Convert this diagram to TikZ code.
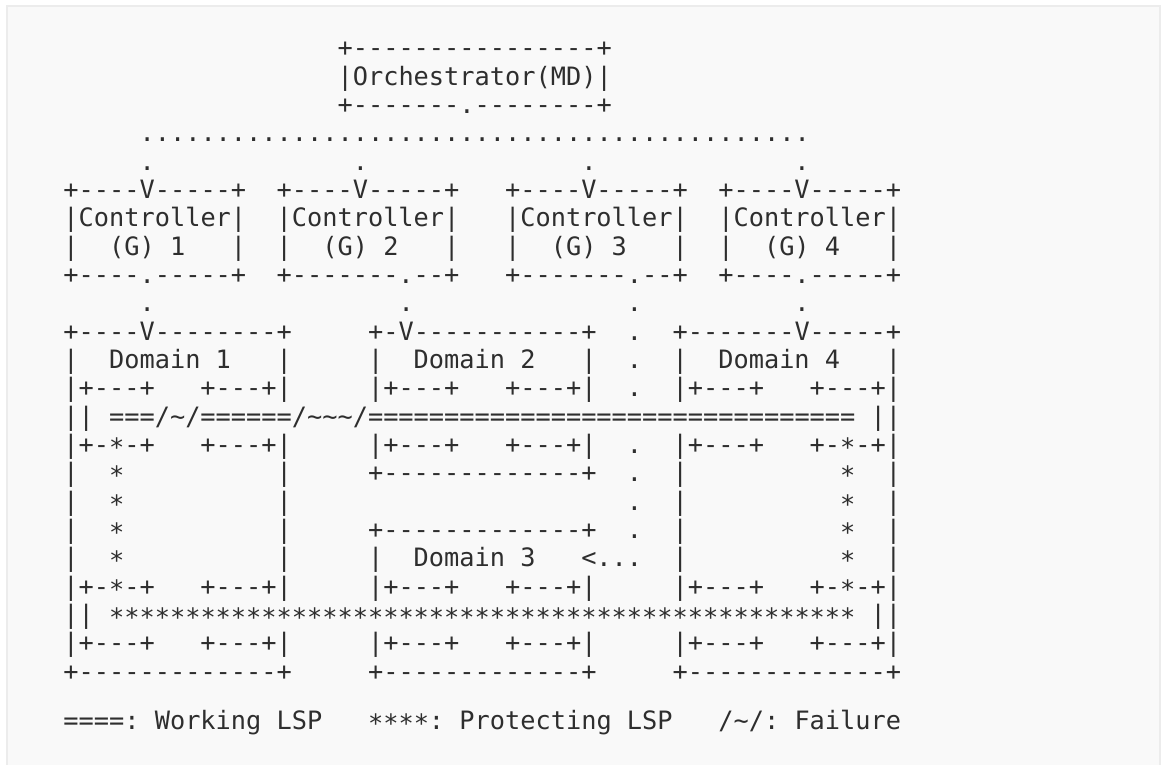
\documentclass[tikz,border=0pt]{standalone}
\usepackage{fontspec}
\newfontfamily\asciifont{DejaVu Sans Mono}[Ligatures=TeXOff]
\definecolor{ink}{HTML}{2E2E2E}
\definecolor{panel}{HTML}{F9F9F9}
\definecolor{frame}{HTML}{ECECEC}
\newlength\colw
\setlength\colw{15.23pt}
\newcommand\colgap[1]{\hspace*{#1\colw}}
\newcommand\reps[2]{\foreach \k in {1,...,#1}{#2}}
\newcommand\tld{\textasciitilde}
\newcommand\strk{\raisebox{-3pt}{*}}
\tikzset{
  row/.style={anchor=base west, inner sep=0pt, text=ink,
    font=\asciifont\fontsize{25.3}{28.34}\selectfont}
}
\begin{document}
\begin{tikzpicture}[x=1pt,y=-1pt]
  \useasboundingbox (0,0) rectangle (1161,765);
  \fill[white] (0,0) rectangle (1161,765);
  \filldraw[fill=panel, draw=frame, line width=2pt] (7,6) rectangle (1160,780);
  % orchestrator
  \node[row] (r1) at (63.24,56.70) {\colgap{18}+\reps{16}{-}+};
  \node[row] (r2) at (63.24,85.04) {\colgap{18}|Orchestrator(MD)|};
  \node[row] (r3) at (63.24,113.38) {\colgap{18}+-------.--------+};
  \node[row] (r4) at (63.24,141.72) {\colgap{5}\reps{44}{.}};
  \node[row] (r5) at (63.24,170.06) {\colgap{5}.\colgap{13}.\colgap{14}.\colgap{13}.};
  % controllers
  \node[row] (r6) at (63.24,198.40) {+----V-----+\colgap{2}+----V-----+\colgap{3}+----V-----+\colgap{2}+----V-----+};
  \node[row] (r7) at (63.24,226.74) {|Controller|\colgap{2}|Controller|\colgap{3}|Controller|\colgap{2}|Controller|};
  \node[row] (r8) at (63.24,255.08) {|\colgap{2}(G)\colgap{1}1\colgap{3}|\colgap{2}|\colgap{2}(G)\colgap{1}2\colgap{3}|\colgap{3}|\colgap{2}(G)\colgap{1}3\colgap{3}|\colgap{2}|\colgap{2}(G)\colgap{1}4\colgap{3}|};
  \node[row] (r9) at (63.24,283.42) {+----.-----+\colgap{2}+-------.--+\colgap{3}+-------.--+\colgap{2}+----.-----+};
  \node[row] (r10) at (63.24,311.76) {\colgap{5}.\colgap{16}.\colgap{14}.\colgap{10}.};
  % domains
  \node[row] (r11) at (63.24,340.10) {+----V--------+\colgap{5}+-V-----------+\colgap{2}.\colgap{2}+-------V-----+};
  \node[row] (r12) at (63.24,368.44) {|\colgap{2}Domain\colgap{1}1\colgap{3}|\colgap{5}|\colgap{2}Domain\colgap{1}2\colgap{3}|\colgap{2}.\colgap{2}|\colgap{2}Domain\colgap{1}4\colgap{3}|};
  \node[row] (r13) at (63.24,396.78) {|+---+\colgap{3}+---+|\colgap{5}|+---+\colgap{3}+---+|\colgap{2}.\colgap{2}|+---+\colgap{3}+---+|};
  \node[row] (r14) at (63.24,425.12) {||\colgap{1}===/\tld/======/\tld\tld\tld/\reps{32}{=}\colgap{1}||};
  \node[row] (r15) at (63.24,453.46) {|+-\strk-+\colgap{3}+---+|\colgap{5}|+---+\colgap{3}+---+|\colgap{2}.\colgap{2}|+---+\colgap{3}+-\strk-+|};
  \node[row] (r16) at (63.24,481.80) {|\colgap{2}\strk\colgap{10}|\colgap{5}+\reps{13}{-}+\colgap{2}.\colgap{2}|\colgap{10}\strk\colgap{2}|};
  \node[row] (r17) at (63.24,510.14) {|\colgap{2}\strk\colgap{10}|\colgap{22}.\colgap{2}|\colgap{10}\strk\colgap{2}|};
  \node[row] (r18) at (63.24,538.48) {|\colgap{2}\strk\colgap{10}|\colgap{5}+\reps{13}{-}+\colgap{2}.\colgap{2}|\colgap{10}\strk\colgap{2}|};
  \node[row] (r19) at (63.24,566.82) {|\colgap{2}\strk\colgap{10}|\colgap{5}|\colgap{2}Domain\colgap{1}3\colgap{3}<...\colgap{2}|\colgap{10}\strk\colgap{2}|};
  \node[row] (r20) at (63.24,595.16) {|+-\strk-+\colgap{3}+---+|\colgap{5}|+---+\colgap{3}+---+|\colgap{5}|+---+\colgap{3}+-\strk-+|};
  \node[row] (r21) at (63.24,623.50) {||\colgap{1}\reps{49}{\strk}\colgap{1}||};
  \node[row] (r22) at (63.24,651.84) {|+---+\colgap{3}+---+|\colgap{5}|+---+\colgap{3}+---+|\colgap{5}|+---+\colgap{3}+---+|};
  \node[row] (r23) at (63.24,680.18) {+\reps{13}{-}+\colgap{5}+\reps{13}{-}+\colgap{5}+\reps{13}{-}+};
  % legend
  \node[row] (lg) at (63.24,729.00) {====:\colgap{1}Working\colgap{1}LSP\colgap{3}\reps{4}{\strk}:\colgap{1}Protecting\colgap{1}LSP\colgap{3}/\tld/:\colgap{1}Failure};
\end{tikzpicture}
\end{document}
